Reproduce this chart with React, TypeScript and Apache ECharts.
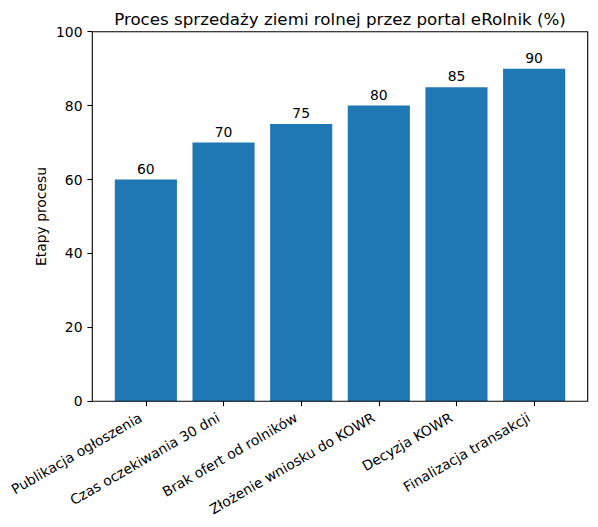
import React, { useEffect, useRef } from "react";
import * as echarts from "echarts";

const categories = [
  "Publikacja ogłoszenia",
  "Czas oczekiwania 30 dni",
  "Brak ofert od rolników",
  "Złożenie wniosku do KOWR",
  "Decyzja KOWR",
  "Finalizacja transakcji",
];
const values = [60, 70, 75, 80, 85, 90];
const titleText = "Proces sprzedaży ziemi rolnej przez portal eRolnik (%)";
const yName = "Etapy procesu";

const FONT = "DejaVu Sans";
const W = 598;
const H = 527;
// axes box (matplotlib-like)
const AX_L = 92.3;
const AX_R = 587.7;
const AX_T = 31.7;
const AX_B = 401.3;
const UNITS = 6.38; // 5.8 data span + 2*0.29 margins
const UNIT = (AX_R - AX_L) / UNITS;
const GRID_L = AX_L + 0.69 * UNIT - 0.5 * UNIT;
const GRID_R = GRID_L + categories.length * UNIT;

export default function App() {
  const ref = useRef<HTMLDivElement>(null);
  useEffect(() => {
    if (!ref.current) return;
    const chart = echarts.init(ref.current, null, { renderer: "svg" });
    chart.setOption({
      animation: false,
      backgroundColor: "#ffffff",
      textStyle: { fontFamily: FONT },
      title: {
        text: titleText,
        left: (AX_L + AX_R) / 2,
        textAlign: "center",
        top: 10,
        padding: 0,
        textStyle: { fontFamily: FONT, fontSize: 16.7, fontWeight: "normal", color: "#000" },
      },
      grid: {
        left: GRID_L,
        right: W - GRID_R,
        top: AX_T,
        bottom: H - AX_B,
        containLabel: false,
      },
      xAxis: {
        type: "category",
        data: categories,
        boundaryGap: true,
        axisLine: { show: false },
        axisTick: {
          show: true,
          alignWithLabel: true,
          length: 4.9,
          lineStyle: { color: "#000", width: 1.1 },
        },
        axisLabel: {
          rotate: 30,
          interval: 0,
          margin: 12,
          fontSize: 13.9,
          fontFamily: FONT,
          color: "#000",
          formatter: (v: string) => `{a|${v}}`,
          rich: {
            a: {
              fontSize: 13.9,
              fontFamily: FONT,
              color: "#000",
              padding: [0, 6, 0, 0],
            },
          },
        },
        splitLine: { show: false },
      },
      yAxis: {
        type: "value",
        min: 0,
        max: 100,
        interval: 20,
        offset: GRID_L - AX_L,
        name: yName,
        nameLocation: "middle",
        nameGap: 44,
        nameMoveOverlap: false,
        nameTextStyle: { fontFamily: FONT, fontSize: 13.9, color: "#000" },
        axisLine: { show: false },
        axisTick: { show: true, length: 4.9, lineStyle: { color: "#000", width: 1.1 } },
        axisLabel: { margin: 9.8, fontSize: 13.9, fontFamily: FONT, color: "#000" },
        splitLine: { show: false },
      },
      series: [
        {
          type: "bar",
          data: values,
          barWidth: "80%",
          itemStyle: { color: "#1f77b4" },
          label: {
            show: true,
            position: "top",
            distance: 4,
            fontSize: 13.9,
            fontFamily: FONT,
            color: "#000",
          },
        },
      ],
      graphic: [
        {
          type: "rect",
          z: 100,
          shape: { x: AX_L, y: AX_T, width: AX_R - AX_L, height: AX_B - AX_T },
          style: { fill: "none", stroke: "#000", lineWidth: 1.1 },
          silent: true,
        },
      ],
    });
    return () => chart.dispose();
  }, []);
  return (
    <div
      ref={ref}
      style={{ position: "absolute", left: 0, top: 0, width: W, height: H }}
    />
  );
}
